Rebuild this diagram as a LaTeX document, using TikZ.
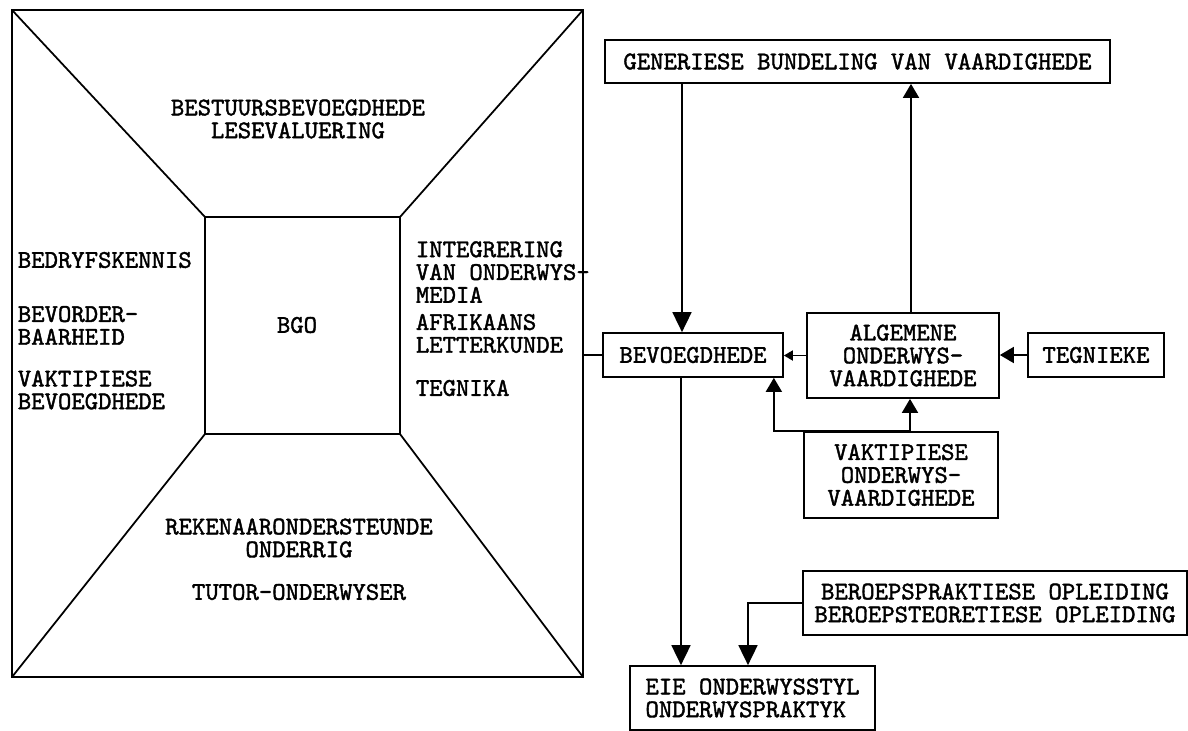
\documentclass[tikz,border=0pt]{standalone}
\usepackage{fontspec}
\setmonofont{lmmono10-regular.otf}[FakeBold=1.6]
\usetikzlibrary{arrows.meta}

\begin{document}
\begin{tikzpicture}[x=0.02cm, y=-0.02cm, line width=1pt,
  every node/.style={font=\fontsize{14.5}{13}\selectfont\ttfamily},
  box/.style={draw, inner sep=0pt, align=center},
  txt/.style={inner sep=0pt, align=left, anchor=west},
  big/.style={-{Triangle[length=0.4cm,width=0.38cm]}},
  mid/.style={-{Triangle[length=0.28cm,width=0.32cm]}},
  small/.style={-{Triangle[length=0.18cm,width=0.2cm]}}]
\useasboundingbox (0,0) rectangle (1188,731);
% Frame with the inner square and its corner lines
\coordinate (onw) at (12,10);
\coordinate (one) at (583,10);
\coordinate (ose) at (583,677);
\coordinate (osw) at (12,677);
\coordinate (inw) at (205,217);
\coordinate (ine) at (400,217);
\coordinate (ise) at (400,434);
\coordinate (isw) at (205,434);
\draw (onw) rectangle (ose);
\draw (inw) rectangle (ise);
\foreach \o/\i in {onw/inw, one/ine, ose/ise, osw/isw}
  \draw (\o) -- (\i);
\node[align=center, inner sep=0pt] (top) at (298,119) {BESTUURSBEVOEGDHEDE\\LESEVALUERING};
\node[inner sep=0pt] (bgo) at (297,325) {BGO};
\node[txt] (bedr) at (17,260) {BEDRYFSKENNIS};
\node[txt] (bevord) at (17,325.5) {BEVORDER-\\BAARHEID};
\node[txt] (vakbev) at (17,390) {VAKTIPIESE\\BEVOEGDHEDE};
\node[txt] (integ) at (415,272) {INTEGRERING\\VAN ONDERWYS-\\MEDIA};
\node[txt] (afrik) at (415,333.5) {AFRIKAANS\\LETTERKUNDE};
\node[txt] (tegnika) at (415,388) {TEGNIKA};
\node[align=center, inner sep=0pt] (reken) at (299,538) {REKENAARONDERSTEUNDE\\ONDERRIG};
\node[inner sep=0pt] (tutor) at (299,592) {TUTOR-ONDERWYSER};
% Boxes on the right
\node[box, minimum width=10.1cm, minimum height=0.86cm] (gen) at (857.5,61.5) {GENERIESE BUNDELING VAN VAARDIGHEDE};
\node[box, minimum width=3.6cm, minimum height=0.88cm] (bev) at (693,355) {BEVOEGDHEDE};
\node[box, minimum width=3.84cm, minimum height=1.7cm] (alg) at (903,355.5) {ALGEMENE\\ONDERWYS-\\VAARDIGHEDE};
\node[box, minimum width=2.72cm, minimum height=0.88cm] (teg) at (1096,355) {TEGNIEKE};
\node[box, minimum width=3.88cm, minimum height=1.72cm] (vak) at (901,475) {VAKTIPIESE\\ONDERWYS-\\VAARDIGHEDE};
\node[box, minimum width=7.68cm, minimum height=1.28cm] (ber) at (995,603) {BEROEPSPRAKTIESE OPLEIDING\\BEROEPSTEORETIESE OPLEIDING};
\node[box, align=left, minimum width=4.9cm, minimum height=1.28cm] (eie) at (752.5,698) {EIE ONDERWYSSTYL\\ONDERWYSPRAKTYK};
% Connectors
\draw (one |- bev.west) -- (bev.west);
\draw[big] ([xshift=-0.22cm]bev.north |- gen.south) -- ([xshift=-0.22cm]bev.north);
\draw[big] ([xshift=-0.24cm]bev.south) -- ([xshift=-0.24cm]bev.south |- eie.north);
\draw[big] (ber.west) -| ([xshift=-0.09cm]eie.north);
\draw[small] (alg.west) -- (alg.west -| bev.east);
\draw[mid] (teg.west) -- (teg.west -| alg.east);
\draw[mid] ([xshift=0.16cm]alg.north) -- ([xshift=0.16cm]alg.north |- gen.south);
\draw[mid] ([xshift=0.18cm]vak.north) -- ([xshift=0.18cm]vak.north |- alg.south);
\draw[mid] ([xshift=0.18cm]vak.north) -| ([xshift=-0.2cm]bev.south east);
\end{tikzpicture}
\end{document}
